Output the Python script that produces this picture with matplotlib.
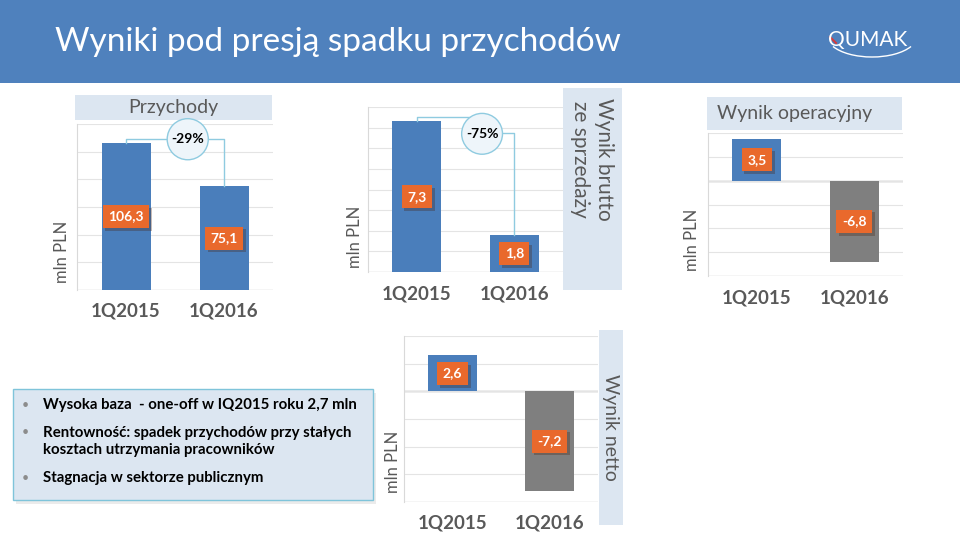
import matplotlib
matplotlib.use('Agg')
import matplotlib.pyplot as plt
import matplotlib.patheffects as pe
from matplotlib.patches import Rectangle, Arc
import numpy as np

plt.rcParams['font.family'] = ['Lato', 'DejaVu Sans']

W, H = 960, 535

# dane ze slajdu
kwartaly = ['1Q2015', '1Q2016']
przychody = [106.3, 75.1]
wynik_brutto = [7.3, 1.8]
wynik_oper = [3.5, -6.8]
wynik_netto = [2.6, -7.2]
zmiana_przychody = '-29%'
zmiana_brutto = '-75%'
punkty = ['Wysoka baza  - one-off w IQ2015 roku 2,7 mln',
          'Rentowność: spadek przychodów przy stałych\nkosztach utrzymania pracowników',
          'Stagnacja w sektorze publicznym']

NIEBIESKI = '#4A7EBB'
SZARY = '#7F7F7F'
POMARANCZ = '#E9692C'
TEKST = '#595959'
JASNY = '#DCE6F1'
LINIA = '#8FCBE0'


def fmt(v):
    return f'{v:.1f}'.replace('.', ',')


fig = plt.figure(figsize=(9.6, 5.35), dpi=100)
bg = fig.add_axes([0, 0, 1, 1])
bg.set_xlim(0, W)
bg.set_ylim(H, 0)
bg.axis('off')


def px_axes(x0, y0, x1, y1):
    return fig.add_axes([x0 / W, 1 - y1 / H, (x1 - x0) / W, (y1 - y0) / H])


def wykres(box, values, ymin, ymax, step, pad=10):
    ax = px_axes(*box)
    x = np.arange(len(kwartaly))
    colors = [NIEBIESKI if v >= 0 else SZARY for v in values]
    ax.bar(x, values, width=0.5, color=colors, zorder=2)
    ax.set_xlim(-0.5, 1.5)
    ax.set_ylim(ymin, ymax)
    ax.set_yticks(np.arange(ymin, ymax + step / 2, step))
    ax.grid(axis='y', color='#E4E4E4', lw=0.8, zorder=0)
    ax.set_xticks(x)
    ax.set_xticklabels(kwartaly, fontsize=13.5, fontweight='bold', color=TEKST)
    ax.tick_params(length=0, labelleft=False, pad=pad)
    for s in ['top', 'right', 'bottom']:
        ax.spines[s].set_visible(False)
    ax.spines['left'].set_color('#D9D9D9')
    ax.axhline(ymin, color='#D9D9D9', lw=1, zorder=1)
    if ymin < 0:
        ax.axhline(0, color='#A6A6A6', lw=1, zorder=1)
    ax.set_facecolor('none')
    # etykiety wartosci w pomaranczowych ramkach z cieniem
    for i, v in enumerate(values):
        t = ax.text(i, v / 2, fmt(v), ha='center', va='center', fontsize=10,
                    fontweight='bold', color='white', zorder=4,
                    bbox=dict(boxstyle='square,pad=0.4', fc=POMARANCZ, ec='none'))
        t.get_bbox_patch().set_path_effects(
            [pe.SimplePatchShadow(offset=(2, -2), alpha=0.3), pe.Normal()])
    return ax


def kolko(ax, x, y, txt):
    ax.text(x, y, txt, ha='center', va='center', fontsize=10, fontweight='bold',
            color='black', zorder=6, clip_on=False,
            bbox=dict(boxstyle='circle,pad=0.3', fc='#EEF5FA', ec=LINIA, lw=1))


# naglowek
bg.add_patch(Rectangle((0, 0), W, 83, fc='#4F81BD', ec='none'))
bg.text(55, 42, 'Wyniki pod presją spadku przychodów', color='white',
        fontsize=24, fontweight='normal', va='center', ha='left')
bg.text(868, 40, 'QUMAK', color='white', fontsize=15, va='center', ha='center')
bg.add_patch(Arc((872, 36), 90, 42, theta1=15, theta2=165, color='white', lw=1))
bg.plot([830, 836], [37, 43], color='#D23C3C', lw=1.5)

# Przychody
bg.add_patch(Rectangle((75, 95), 197, 25, fc=JASNY, ec='none'))
bg.text(173, 107, 'Przychody', fontsize=14, color=TEKST, ha='center', va='center')
ax1 = wykres((77, 124, 273, 290), przychody, 0, 120, 20, pad=9)
ax1.plot([0, 0, 1, 1], [przychody[0], 109, 109, przychody[1]], color=LINIA,
         lw=1, zorder=5, clip_on=False)
kolko(ax1, 0.63, 109, zmiana_przychody)
bg.text(62, 252, 'mln PLN', rotation=90, fontsize=12, color=TEKST,
        ha='center', va='center')

# Wynik brutto ze sprzedazy
bg.add_patch(Rectangle((563, 88), 59, 202, fc=JASNY, ec='none'))
bg.text(592, 98, 'Wynik brutto\nze sprzedaży', rotation=-90, fontsize=15,
        color=TEKST, ha='center', va='top', linespacing=1.2)
ax2 = wykres((368, 107, 563, 272), wynik_brutto, 0, 8, 1)
ax2.plot([0, 0, 0.67], [wynik_brutto[0], 7.5, 7.5], color=LINIA, lw=1,
         zorder=5, clip_on=False)
ax2.plot([0.67, 1, 1], [6.75, 6.75, wynik_brutto[1]], color=LINIA, lw=1,
         zorder=5, clip_on=False)
kolko(ax2, 0.67, 6.7, zmiana_brutto)
bg.text(355, 237, 'mln PLN', rotation=90, fontsize=12, color=TEKST,
        ha='center', va='center')

# Wynik operacyjny
bg.add_patch(Rectangle((707, 97), 195, 33, fc=JASNY, ec='none'))
bg.text(717, 113, 'Wynik operacyjny', fontsize=14, color=TEKST, ha='left', va='center')
ax3 = wykres((708, 133, 903, 276), wynik_oper, -8, 4, 2)
bg.text(692, 240, 'mln PLN', rotation=90, fontsize=12, color=TEKST,
        ha='center', va='center')

# Wynik netto
bg.add_patch(Rectangle((599, 330), 24, 195, fc=JASNY, ec='none'))
bg.text(610, 427, 'Wynik netto', rotation=-90, fontsize=14, color=TEKST,
        ha='center', va='center')
ax4 = wykres((404, 336, 598, 502), wynik_netto, -8, 4, 2, pad=9)
bg.text(393, 462, 'mln PLN', rotation=90, fontsize=12, color=TEKST,
        ha='center', va='center')

# ramka z komentarzem
bg.add_patch(Rectangle((16, 393), 360, 111, fc='#000000', alpha=0.08, ec='none'))
bg.add_patch(Rectangle((13, 389), 360, 111, fc=JASNY, ec='#7FC4DA', lw=1))
wiersze_y = [405, 441.5, 478]
for y, t in zip(wiersze_y, punkty):
    bg.text(25, y - (9.5 if '\n' in t else 0), '•', fontsize=9, color='#8C8C8C',
            ha='center', va='center')
    bg.text(43, y, t, fontsize=10.8, fontweight='bold', color='black',
            ha='left', va='center', linespacing=1.25)

fig.savefig('out.png', dpi=100)
